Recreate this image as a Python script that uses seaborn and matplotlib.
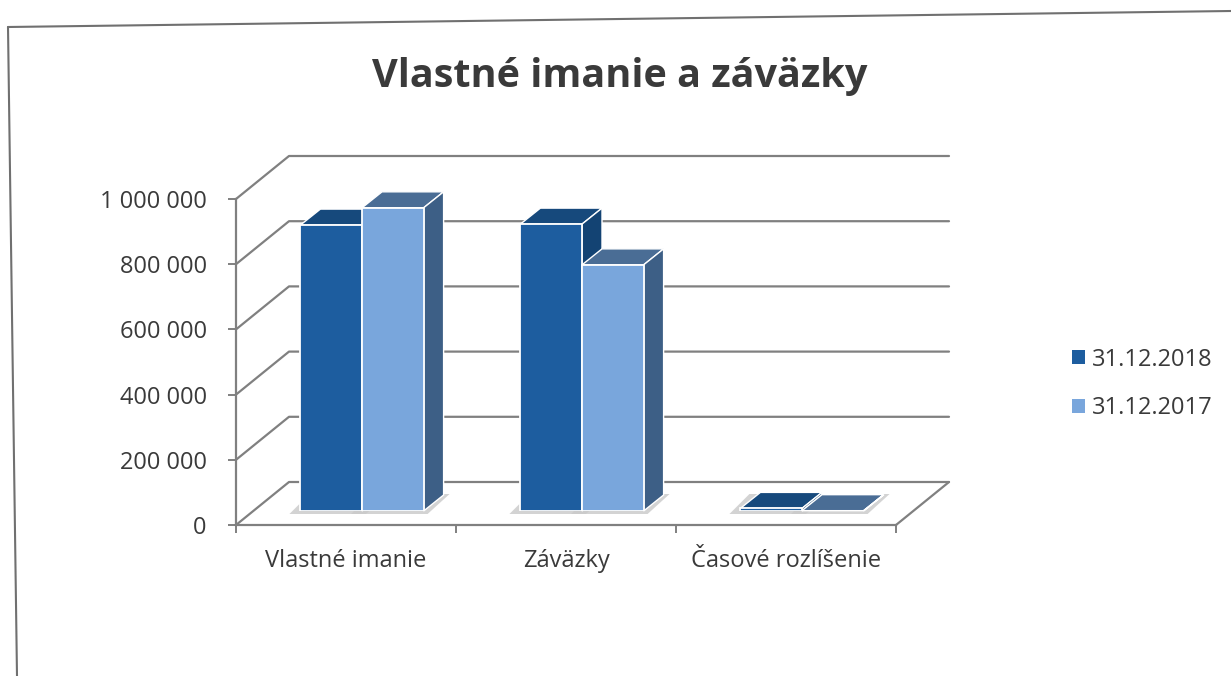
import numpy as np
import pandas as pd
import matplotlib
matplotlib.use("Agg")
import matplotlib.pyplot as plt
import seaborn as sns
from matplotlib.patches import Polygon, Patch
from matplotlib.lines import Line2D
from matplotlib.transforms import IdentityTransform
from matplotlib.ticker import FuncFormatter, FixedLocator

# ---------------- data ----------------
categories = ["Vlastné imanie", "Záväzky", "Časové rozlíšenie"]
series_names = ["31.12.2018", "31.12.2017"]
values_2018 = [877000, 880000, 8000]
values_2017 = [930000, 755000, 1000]
y_ticks = [0, 200000, 400000, 600000, 800000, 1000000]
title = "Vlastné imanie a záväzky"

# ---------------- style ----------------
sns.set_theme(style="white")
plt.rcParams["font.family"] = ["Open Sans", "DejaVu Sans"]
TXT = "#3a3a3a"
GRID = "#808080"
front_cols = ["#1d5d9f", "#79a6dc"]
top_cols = ["#16497c", "#4a6d95"]
side_cols = ["#134373", "#3d5f86"]

W, H, DPI = 1231, 676, 100
fig = plt.figure(figsize=(W / DPI, H / DPI), dpi=DPI)
fig.patch.set_facecolor("white")

# front plane of the 3D box (pixel coords from top)
FX0, FX1, FY0, FY1 = 236, 896, 525, 199
BDX, BDY = 16, 14      # bar plane shift (display px)
WDX, WDY = 53, 43      # back wall shift
DDX, DDY = 20, 16      # bar depth

ax = fig.add_axes([FX0 / W, (H - FY0) / H, (FX1 - FX0) / W, (FY0 - FY1) / H])
axb = fig.add_axes([(FX0 + BDX) / W, (H - FY0 + BDY) / H, (FX1 - FX0) / W, (FY0 - FY1) / H])
ax.set_zorder(0)
axb.set_zorder(2)

df = pd.DataFrame({
    "Kategória": categories * 2,
    "Hodnota": values_2018 + values_2017,
    "Dátum": [series_names[0]] * len(categories) + [series_names[1]] * len(categories),
})

sns.barplot(data=df, x="Kategória", y="Hodnota", hue="Dátum", hue_order=series_names,
            palette=front_cols, width=0.56, saturation=1, edgecolor="white",
            linewidth=1.3, ax=axb, legend=False)

for a in (ax, axb):
    a.set_xlim(-0.5, len(categories) - 0.5)
    a.set_ylim(0, 1000000)
axb.axis("off")
axb.patch.set_alpha(0)
ax.patch.set_alpha(0)

# 3D faces (and soft floor shadow) for each bar
n = len(categories)
bars = list(axb.patches)
for i, p in enumerate(bars):
    h = i // n
    x0, y0 = p.get_x(), p.get_y()
    x1, y1 = x0 + p.get_width(), y0 + p.get_height()
    (dx0, dyb), (dx1, dyt) = axb.transData.transform([(x0, y0), (x1, y1)])
    p.set_zorder(3 + 2 * h)
    shadow = Polygon([(dx0 - 11, dyb - 3), (dx1 + 4, dyb - 3), (dx1 + DDX + 6, dyb + DDY + 1),
                      (dx0 + DDX - 11, dyb + DDY + 1)],
                     closed=True, facecolor="#c9c9c9", edgecolor="none", alpha=0.8,
                     transform=IdentityTransform(), clip_on=False, zorder=1)
    top = Polygon([(dx0, dyt), (dx1, dyt), (dx1 + DDX, dyt + DDY), (dx0 + DDX, dyt + DDY)],
                  closed=True, facecolor=top_cols[h], edgecolor="white", linewidth=1.0,
                  transform=IdentityTransform(), clip_on=False, zorder=2 + 2 * h)
    side = Polygon([(dx1, dyb), (dx1 + DDX, dyb + DDY), (dx1 + DDX, dyt + DDY), (dx1, dyt)],
                   closed=True, facecolor=side_cols[h], edgecolor="white", linewidth=1.0,
                   transform=IdentityTransform(), clip_on=False, zorder=2 + 2 * h)
    axb.add_patch(shadow)
    axb.add_patch(top)
    axb.add_patch(side)

# back wall gridlines + side wall obliques
xl, xr = -0.5, len(categories) - 0.5
for v in y_ticks:
    (px0, py0), (px1, _) = ax.transData.transform([(xl, v), (xr, v)])
    ax.add_line(Line2D([px0, px0 + WDX, px1 + WDX], [py0, py0 + WDY, py0 + WDY],
                       color=GRID, lw=1.6, transform=IdentityTransform(), clip_on=False))
# floor right edge
(qx, qy) = ax.transData.transform((xr, 0))
ax.add_line(Line2D([qx, qx + WDX], [qy, qy + WDY], color=GRID, lw=1.6,
                   transform=IdentityTransform(), clip_on=False))

# axes spines / ticks
for s in ("top", "right"):
    ax.spines[s].set_visible(False)
for s in ("left", "bottom"):
    ax.spines[s].set_color(GRID)
    ax.spines[s].set_linewidth(1.6)
ax.yaxis.set_major_locator(FixedLocator(y_ticks))
ax.yaxis.set_major_formatter(FuncFormatter(lambda v, _: f"{int(v):,}".replace(",", " ")))
ax.tick_params(axis="y", which="major", length=6, width=1.4, color=GRID, pad=15,
               labelsize=17, labelcolor=TXT, left=True)
ax.set_xticks(range(n))
ax.set_xticklabels(categories)
ax.set_xticks([k - 0.5 for k in range(n + 1)], minor=True)
ax.tick_params(axis="x", which="major", length=0, pad=17, labelsize=17, labelcolor=TXT)
ax.tick_params(axis="x", which="minor", length=6, width=1.4, color=GRID, bottom=True)
ax.set_xlabel("")
ax.set_ylabel("")
ax.grid(False)

# title
fig.text(620 / W, 1 - 87 / H, title, ha="center", va="baseline", fontsize=28.5,
         fontweight="bold", color=TXT)

# legend
handles = [Patch(facecolor=c, edgecolor="none") for c in front_cols]
fig.legend(handles, series_names, loc="center left", bbox_to_anchor=(1051 / W, 1 - 384 / H),
           frameon=False, handlelength=0.55, handleheight=0.55, handletextpad=0.3,
           labelspacing=1.05, fontsize=17, labelcolor=TXT)

# scanned page frame
fig.add_artist(Line2D([8 / W, 1.0], [1 - 27 / H, 1 - 11 / H], color="#707070", lw=1.5))
fig.add_artist(Line2D([8 / W, 17 / W], [1 - 27 / H, 0.0], color="#707070", lw=1.5))

fig.savefig("out.png", dpi=DPI)
